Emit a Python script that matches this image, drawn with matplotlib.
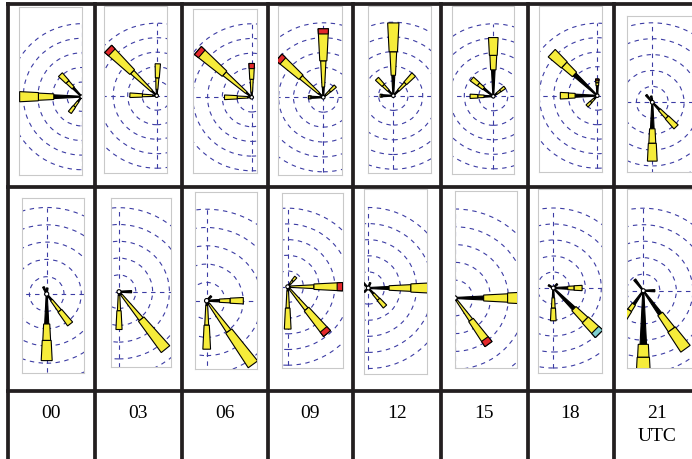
import numpy as np
import matplotlib
matplotlib.use("Agg")
import matplotlib.pyplot as plt
from matplotlib.patches import Polygon, Circle

W, H = 692, 460

# ---------------- data ----------------
hours = ["00", "03", "06", "09", "12", "15", "18", "21\nUTC"]

# petal direction (deg clockwise from north), length (in ring units),
# fraction of the petal drawn black (weak classes), tip colour code
dirs1 = [[270, 316, 217], [314, 2, 271], [311, 0, 270], [0, 312, 47, 270],
         [0, 316, 44, 270], [0, 309, 270, 52], [313, 270, 0, 225], [180, 136, 320, 350]]
lens1 = [[4.25, 2.1, 1.35], [4.65, 2.2, 1.85], [4.85, 2.3, 1.85], [4.6, 4.0, 1.1, 1.0],
         [4.95, 1.6, 2.0, 0.9], [4.05, 1.9, 1.6, 1.0], [4.3, 2.55, 1.15, 1.0], [3.7, 2.15, 0.6, 0.4]]
black1 = [[0.45, 0.4, 0.3], [0.1, 0.2, 0.15], [0.1, 0.15, 0.15], [0.15, 0.1, 0.2, 0.8],
          [0.28, 0.3, 0.25, 0.8], [0.45, 0.45, 0.4, 0.3], [0.5, 0.6, 0.6, 0.3], [0.45, 0.3, 1.0, 1.0]]
tips1 = [["", "", ""], ["r", "", ""], ["r", "r", ""], ["r", "r", "", ""],
         ["", "", "", ""], ["", "", "", ""], ["", "", "d", ""], ["", "", "", ""]]

dirs2 = [[180, 142, 335, 5], [141, 180, 90], [144, 90, 180, 45], [90, 140, 180, 40],
         [90, 138, 315, 225, 20], [90, 144], [135, 90, 180, 45, 300], [180, 144, 215, 322, 90]]
lens2 = [[3.85, 2.2, 0.45, 0.35], [4.4, 2.25, 0.75], [4.3, 2.0, 2.65, 0.35], [3.5, 3.9, 2.7, 0.8],
         [4.3, 1.55, 0.45, 0.35, 0.35], [4.6, 3.2], [4.05, 1.8, 2.05, 0.35, 0.35],
         [5.0, 4.35, 2.0, 0.85, 0.7]]
black2 = [[0.45, 0.2, 1, 1], [0.05, 0.1, 1.0], [0.05, 0.35, 0.1, 1], [0.05, 0.05, 0.1, 0.3],
          [0.3, 0.3, 1, 1, 1], [0.35, 0.05], [0.45, 0.5, 0.3, 1, 1], [0.65, 0.4, 0.5, 1, 1]]
tips2 = [["", "", "", ""], ["", "", ""], ["", "", "", ""], ["r", "r", "", ""],
         ["", "", "", "", ""], ["", "r"], ["c", "", "", "", ""], ["", "", "", "", ""]]

# ---------------- layout (pixels) ----------------
rects1 = [(19.3, 8.3, 81.7, 176), (104.3, 7.3, 166.7, 174), (193.3, 10, 256.7, 174),
          (278.3, 7.3, 341.7, 176), (368.3, 7.3, 430.7, 174), (451.7, 7.3, 514.3, 175),
          (539.3, 7.3, 601.7, 173.3), (627.3, 16.7, 720, 173.3)]
centers1 = [(81.7, 97.7), (156.7, 96.7), (251.7, 98.3), (323.3, 98.3), (393.3, 96.7),
            (493.3, 97.3), (597.3, 96.7), (652.3, 103.3)]
spacing1 = [14.6, 14.5, 14.7, 14.9, 14.7, 14.5, 14.5, 15.9]

rects2 = [(22.3, 199, 84, 374.3), (110.7, 199, 170.7, 367.7), (195, 193.3, 256.7, 370),
          (281.7, 194.3, 343.3, 369), (364, 190, 426.7, 375), (455, 191.7, 517.3, 369),
          (538.3, 190, 601.7, 374.3), (627.3, 190, 720, 369)]
centers2 = [(46.7, 295), (119, 292.7), (206.7, 301.7), (287.7, 287.7), (368.3, 289),
            (455, 299), (553.3, 289), (643.3, 291.7)]
spacing2 = [17.3, 16.8, 18.3, 15.7, 16.1, 17.8, 16, 16.5]

col_lines = [8, 94.5, 181.5, 267.5, 353, 440.5, 527.5, 613.5]
row_lines = [5, 188, 392]

RING = "#3c3ca4"
YELLOW = "#f6ec3a"
TIPC = {"r": "#e3282b", "d": "#8a1a1a", "c": "#7fd0d0"}
K = 0.085     # petal widening rate
HMIN = 0.03

fig = plt.figure(figsize=(W / 100, H / 100), dpi=100)


def seg_poly(theta, r0, r1, h0, h1):
    u = np.array([np.sin(theta), np.cos(theta)])
    n = np.array([np.cos(theta), -np.sin(theta)])
    return [r0 * u + h0 * n, r1 * u + h1 * n, r1 * u - h1 * n, r0 * u - h0 * n]


def draw_petal(ax, d, L, fb, tip):
    th = np.radians(d)
    bounds = [0.0]
    cols = []
    if fb > 0:
        bounds.append(min(fb, 1.0) * L)
        cols.append("black")
    if fb < 1:
        mid = bounds[-1] + 0.45 * (L - bounds[-1])
        bounds += [mid, L]
        cols += [YELLOW, YELLOW]
    last = None
    for i, c in enumerate(cols):
        r0, r1 = bounds[i], bounds[i + 1]
        h0 = K * r0 + HMIN
        h1 = K * (r0 + 0.6 * (r1 - r0)) + HMIN
        ax.add_patch(Polygon(seg_poly(th, r0, r1, h0, h1), closed=True, fc=c,
                             ec="black", lw=0.8, zorder=3, joinstyle="miter"))
        last = (r0, r1, h0, h1)
    if tip and last is not None:
        r0, r1, h0, h1 = last
        t = min(0.35, 0.5 * (r1 - r0))
        ra = r1 - t
        ha = h0 + (h1 - h0) * (ra - r0) / (r1 - r0)
        ax.add_patch(Polygon(seg_poly(th, ra, r1, ha, h1), closed=True, fc=TIPC[tip],
                             ec="black", lw=0.8, zorder=4))


def draw_panel(rect, center, s, dirs, lens, blks, tips):
    x0, y0, x1, y1 = rect
    cx, cy = center
    ax = fig.add_axes([x0 / W, 1 - y1 / H, (x1 - x0) / W, (y1 - y0) / H])
    ax.set_xlim((x0 - cx) / s, (x1 - cx) / s)
    ax.set_ylim((cy - y1) / s, (cy - y0) / s)
    ax.set_xticks([])
    ax.set_yticks([])
    for sp in ax.spines.values():
        sp.set_color("#c9c9c9")
        sp.set_linewidth(0.8)
    for r in range(1, 6):
        ax.add_patch(Circle((0, 0), r, fill=False, ec=RING, lw=0.8,
                            ls=(0, (4, 4)), zorder=1))
    ax.plot([-5, 5], [0, 0], color=RING, lw=0.8, ls=(0, (4, 4)), zorder=1)
    ax.plot([0, 0], [-5, 5], color=RING, lw=0.8, ls=(0, (4, 4)), zorder=1)
    for d, L, fb, tp in zip(dirs, lens, blks, tips):
        draw_petal(ax, d, L, fb, tp)
    ax.add_patch(Circle((0, 0), 0.12, fc="white", ec="black", lw=0.8, zorder=5))


for i in range(8):
    draw_panel(rects1[i], centers1[i], spacing1[i], dirs1[i], lens1[i], black1[i], tips1[i])
    draw_panel(rects2[i], centers2[i], spacing2[i], dirs2[i], lens2[i], black2[i], tips2[i])

# overlay: table lines and labels
ov = fig.add_axes([0, 0, 1, 1], facecolor="none")
ov.set_xlim(0, W)
ov.set_ylim(H, 0)
ov.axis("off")
LC = "#231f20"
for x in col_lines:
    ov.plot([x, x], [row_lines[0] - 2, H], color=LC, lw=2.7, solid_capstyle="butt")
for y in row_lines:
    ov.plot([col_lines[0] - 2, W], [y, y], color=LC, lw=2.7, solid_capstyle="butt")

edges = col_lines + [W + 8]
for i, lab in enumerate(hours):
    xc = 0.5 * (edges[i] + edges[i + 1])
    ov.text(xc, 405, lab, ha="center", va="top", fontsize=14,
            family="Liberation Serif", linespacing=1.45)

fig.savefig("out.png", dpi=100)
